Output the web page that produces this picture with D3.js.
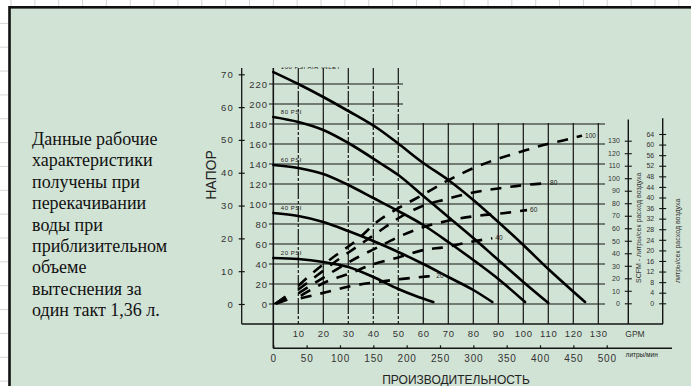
<!DOCTYPE html>
<html><head><meta charset="utf-8">
<script src="https://cdn.jsdelivr.net/npm/d3@7"></script>
<style>body{margin:0;background:#fff}svg{display:block}</style>
</head><body>
<svg id="c" width="691" height="386"></svg>
<script>
// ---------- DATA ----------
const noteLines = ["Данные рабочие","характеристики","получены при","перекачивании","воды при","приблизительном","объеме","вытеснения за","один такт 1,36 л."];
const gpmTicks = [10,20,30,40,50,60,70,80,90,100,110,120,130];
const gpmGrid = [0,10,20,30,40,50,60,70,80,90,100,110,120,130];
const lpmTicks = [0,50,100,150,200,250,300,350,400,450,500];
const ftTicks = [0,20,40,60,80,100,120,140,160,180,200,220];
const mTicks = [0,10,20,30,40,50,60,70];
const scfmTicks = [0,10,20,30,40,50,60,70,80,90,100,110,120,130];
const lsTicks = [0,4,8,12,16,20,24,28,32,36,40,44,48,52,56,60,64];
const psiLabels = ["100 PSI AIR INLET","80 PSI","60 PSI","40 PSI","20 PSI"];
// head curves: [GPM, feet]
const head100 = [[0,232],[10,220],[20,207],[30,193],[42.7,174],[50.7,159],[60,141],[70,124],[80,104],[90,82],[100,59],[110,35],[124.7,2]];
const head80  = [[0,187],[10,182],[20,174],[30,161],[42.7,141],[50,129],[60,108],[70,87],[80,66],[90,44],[100,22],[110,1]];
const head60  = [[0,139],[10,136],[20,130],[30,119],[40,106],[50,93],[60,79],[70,62],[80,44],[90,25],[100.7,2]];
const head40  = [[0,91],[10,88],[20,82],[30,73],[40,63],[50,52],[60,40],[70,27],[80,14],[87.6,2]];
const head20  = [[0,46],[10,45],[20,42],[30,37],[40,27],[50,15],[57,8],[64,2]];
// air consumption curves: [GPM, SCFM]
const airNames = ["100","80","60","40","20"];
const air100 = [[10,14],[18,28],[25.5,39],[33.7,51],[41.4,65],[50,76],[60,87],[68.7,97],[80,108],[89,115],[98.7,121],[108,126.5],[117.5,131],[123.5,134]];
const air80  = [[10,11],[18,23],[26,35],[34,46],[42,57],[50,68],[58.7,77],[68.7,83],[81,89],[90.7,92],[102.7,95],[109.5,96]];
const air60  = [[10,8],[18,18],[26,28],[34,37],[42,45],[50,53],[58.7,60],[69.9,66],[81.9,70],[91.9,72],[101.5,74.5]];
const air40  = [[11,6],[21,17],[30.7,24],[39.7,31],[49.7,36.5],[59.9,42.5],[69,45],[78.7,49],[87.6,52]];
const air20  = [[11,4],[21.4,9],[31.7,14],[41.7,17],[51.7,19.5],[61.7,21.5],[64,22]];
const wedge = [[0,0],[4.6,8],[5.6,3.5],[1.2,-0.5]];

// ---------- SCALES ----------
const W = 691, H = 386;
const svg = d3.select("#c");
const xG = d3.scaleLinear().domain([0,130]).range([273.3,598.3]);
const yF = d3.scaleLinear().domain([0,220]).range([304,84]);
const yM = d3.scaleLinear().domain([0,70]).range([304,74.3]);
const yS = d3.scaleLinear().domain([0,130]).range([303.3,140.7]);
const yL = d3.scaleLinear().domain([0,64]).range([303.3,134]);
const xL = d3.scaleLinear().domain([0,500]).range([273.3,606.7]);

// ---------- background spreadsheet grid ----------
const cell = 23.85;
const bg = svg.append("g");
d3.range(11, W, cell).forEach(x => bg.append("line").attr("x1",x).attr("x2",x).attr("y1",0).attr("y2",H).attr("stroke","#d6d6d6").attr("stroke-width",1));
d3.range(-0.5, H, cell).forEach(y => bg.append("line").attr("x1",0).attr("x2",W).attr("y1",y).attr("y2",y).attr("stroke","#d6d6d6").attr("stroke-width",1));

// panel
svg.append("rect").attr("x",9.5).attr("y",7.3).attr("width",W+10).attr("height",H+10)
  .attr("fill","#d1e3d5").attr("stroke","#111").attr("stroke-width",2.6);

// note text
svg.append("g").selectAll("text").data(noteLines).join("text")
  .attr("x",32).attr("y",(d,i)=>145+i*21.4)
  .attr("font-family","'Liberation Serif','Times New Roman',serif").attr("font-size",18).attr("fill","#111")
  .text(d=>d);

// ---------- chart ----------
svg.append("clipPath").attr("id","cp").append("rect").attr("x",0).attr("y",67).attr("width",W).attr("height",H);
const g = svg.append("g").attr("clip-path","url(#cp)");
const ink = "#141414";
const tf = "'Liberation Sans',Arial,sans-serif";

// vertical grid
gpmGrid.forEach(v => {
  const dashed = [10,30,40,50].includes(v);
  g.append("line").attr("x1",xG(v)).attr("x2",xG(v))
   .attr("y1", v<=50 ? yF(236) : yF(181))
   .attr("y2", v===0 ? 348.3 : 324)
   .attr("stroke",ink).attr("stroke-width",v===0?1.6:1.2)
   .attr("stroke-dasharray", dashed ? "16,2,3,2" : null);
});
// horizontal grid
ftTicks.forEach(v => {
  g.append("line").attr("x1",269).attr("x2", v>=200 ? 403 : 605)
   .attr("y1",yF(v)).attr("y2",yF(v)).attr("stroke",ink).attr("stroke-width",1.2);
});

// left outer axis (m)
g.append("line").attr("x1",241.7).attr("x2",241.7).attr("y1",yF(236)).attr("y2",324).attr("stroke",ink).attr("stroke-width",1.3);
const aM = g.append("g").attr("transform","translate(241.7,0)").call(d3.axisLeft(yM).tickValues(mTicks).tickSize(3).tickPadding(5));
aM.select(".domain").remove();
aM.selectAll(".tick line").attr("x1",3).attr("stroke",ink).attr("stroke-width",1.2);
aM.selectAll(".tick text").attr("font-family",tf).attr("font-size",9.5).attr("letter-spacing","1px").attr("fill","#333");

// inner ft labels
const aF = g.append("g").attr("transform","translate(269,0)").call(d3.axisLeft(yF).tickValues(ftTicks).tickSize(0).tickPadding(1));
aF.select(".domain").remove();
aF.selectAll(".tick text").attr("font-family",tf).attr("font-size",9.5).attr("letter-spacing","1px").attr("fill","#333");

// GPM axis
g.append("line").attr("x1",241.7).attr("x2",663).attr("y1",324).attr("y2",324).attr("stroke",ink).attr("stroke-width",1.5);
const aG = g.append("g").attr("transform","translate(0,324)").call(d3.axisBottom(xG).tickValues(gpmTicks).tickSize(0).tickPadding(12.5));
aG.select(".domain").remove();
aG.selectAll(".tick text").attr("font-family",tf).attr("font-size",9.5).attr("letter-spacing","0.8px").attr("fill","#333").attr("dy","0");
g.append("text").attr("x",635).attr("y",336.5).attr("text-anchor","middle").attr("font-family",tf).attr("font-size",8.5).attr("fill","#333").text("GPM");

// l/min axis
g.append("line").attr("x1",273.3).attr("x2",672).attr("y1",348.3).attr("y2",348.3).attr("stroke",ink).attr("stroke-width",1.4);
const aL = g.append("g").attr("transform","translate(0,348.3)").call(d3.axisTop(xL).tickValues(lpmTicks).tickSize(3).tickFormat(d=>d));
aL.select(".domain").remove();
aL.selectAll(".tick line").attr("stroke",ink).attr("stroke-width",1.2);
aL.selectAll(".tick text").attr("y",14).attr("dy","0").attr("font-family",tf).attr("font-size",10).attr("letter-spacing","0.8px").attr("fill","#333");
g.append("text").attr("x",641.7).attr("y",356.5).attr("text-anchor","middle").attr("font-family",tf).attr("font-size",6.5).attr("fill","#222").text("литры/мин");
svg.append("text").attr("x",456).attr("y",384).attr("text-anchor","middle").attr("font-family",tf).attr("font-size",12).attr("fill","#222").text("ПРОИЗВОДИТЕЛЬНОСТЬ");
svg.append("text").attr("transform","translate(215.5,175) rotate(-90)").attr("text-anchor","middle").attr("font-family",tf).attr("font-size",14).attr("fill","#222").text("НАПОР");

// SCFM axis
g.append("line").attr("x1",628.3).attr("x2",628.3).attr("y1",yS(147)).attr("y2",324).attr("stroke",ink).attr("stroke-width",1.4);
const aS = g.append("g").attr("transform","translate(628.3,0)").call(d3.axisLeft(yS).tickValues(scfmTicks).tickSize(3.5).tickPadding(5));
aS.select(".domain").remove();
aS.selectAll(".tick line").attr("x1",3.5).attr("stroke",ink).attr("stroke-width",1.1);
aS.selectAll(".tick text").attr("font-family",tf).attr("font-size",7).attr("fill","#333");
g.append("text").attr("transform","translate(640.5,283) rotate(-90)").attr("font-family",tf).attr("font-size",7).attr("fill","#333").text("SCFM - литры/сек расход воздуха");

// l/s axis
g.append("line").attr("x1",662.7).attr("x2",662.7).attr("y1",yL(70)).attr("y2",324).attr("stroke",ink).attr("stroke-width",1.4);
const aS2 = g.append("g").attr("transform","translate(662.7,0)").call(d3.axisLeft(yL).tickValues(lsTicks).tickSize(3.5).tickPadding(5));
aS2.select(".domain").remove();
aS2.selectAll(".tick line").attr("x1",3.5).attr("stroke",ink).attr("stroke-width",1.1);
aS2.selectAll(".tick text").attr("font-family",tf).attr("font-size",7).attr("fill","#333");
g.append("text").attr("transform","translate(679.5,283) rotate(-90)").attr("font-family",tf).attr("font-size",7).attr("fill","#333").text("литры/сек расход воздуха");

// head curves
const heads = [head100, head80, head60, head40, head20];
const lineH = d3.line().x(d=>xG(d[0])).y(d=>yF(d[1])).curve(d3.curveMonotoneX);
g.append("g").selectAll("path").data(heads).join("path")
  .attr("d",lineH).attr("fill","none").attr("stroke","#000").attr("stroke-width",2.6).attr("stroke-linecap","round");
g.append("g").selectAll("text").data(heads).join("text")
  .attr("x",xG(3)).attr("y",d=>yF(d[0][1])-3.5)
  .attr("font-family",tf).attr("font-size",6).attr("fill","#222").attr("letter-spacing","0.5px")
  .text((d,i)=>psiLabels[i]);

// air curves
const airs = [air100, air80, air60, air40, air20];
const lineA = d3.line().x(d=>xG(d[0])).y(d=>yS(d[1])).curve(d3.curveMonotoneX);
g.append("g").selectAll("path").data(airs).join("path")
  .attr("d",lineA).attr("fill","none").attr("stroke","#000").attr("stroke-width",2.6).attr("stroke-dasharray","11,9");
g.append("g").selectAll("text").data(airs).join("text")
  .attr("x",d=>xG(d[d.length-1][0])+3).attr("y",d=>yS(d[d.length-1][1])+2)
  .attr("font-family",tf).attr("font-size",6.5).attr("fill","#222")
  .text((d,i)=>airNames[i]);

// wedge at origin
g.append("path").datum(wedge).attr("d",d3.line().x(d=>xG(d[0])).y(d=>yF(d[1]))).attr("fill","#000").attr("stroke","#000").attr("stroke-width",1);
</script>
</body></html>
